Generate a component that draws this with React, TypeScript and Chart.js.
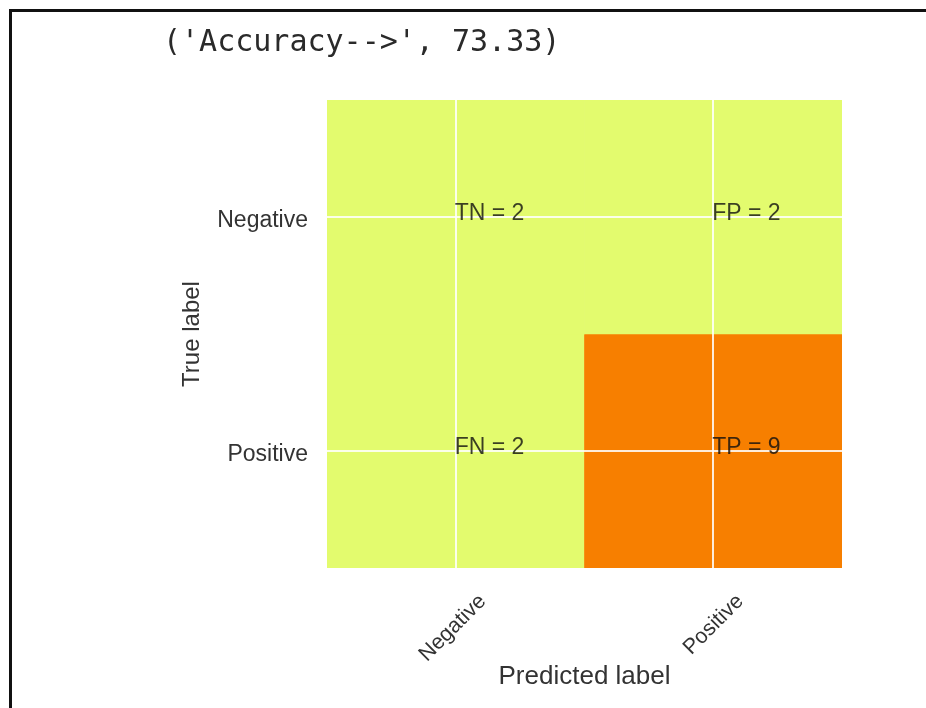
import React, { useEffect, useRef } from "react";
import { Chart, registerables } from "chart.js";

Chart.register(...registerables);

// ---- data ----
const titleText = "('Accuracy-->', 73.33)";
const predictedLabels = ["Negative", "Positive"];
const trueLabels = ["Negative", "Positive"];
const cellNames = [
  ["TN", "FP"],
  ["FN", "TP"],
];
const confusion = [
  [2, 2],
  [2, 9],
];
const xTitle = "Predicted label";
const yTitle = "True label";

// Wistia-like colormap stops (low -> high)
const cmapStops: number[][] = [
  [227, 251, 110],
  [255, 232, 26],
  [255, 189, 0],
  [255, 160, 0],
  [247, 127, 0],
];

const allVals = confusion.flat();
const vMin = Math.min(...allVals);
const vMax = Math.max(...allVals);

function colorFor(v: number): string {
  const t = vMax === vMin ? 0 : (v - vMin) / (vMax - vMin);
  const seg = t * (cmapStops.length - 1);
  const i = Math.min(Math.floor(seg), cmapStops.length - 2);
  const f = seg - i;
  const a = cmapStops[i];
  const b = cmapStops[i + 1];
  const c = a.map((av, k) => Math.round(av + (b[k] - av) * f));
  return `rgb(${c[0]}, ${c[1]}, ${c[2]})`;
}

const annotationPlugin = {
  id: "cellText",
  afterDraw(chart: any) {
    const { ctx, scales } = chart;
    const xs = scales.x;
    const ys = scales.y;
    ctx.save();
    ctx.font = "23px 'Liberation Sans', Arial, sans-serif";
    ctx.fillStyle = "rgba(15, 15, 15, 0.8)";
    ctx.textAlign = "left";
    ctx.textBaseline = "alphabetic";
    confusion.forEach((row, r) => {
      row.forEach((v, c) => {
        const x = xs.getPixelForValue(c);
        const y = ys.getPixelForValue(r);
        ctx.fillText(`${cellNames[r][c]} = ${v}`, x - 1, y + 3);
      });
    });
    ctx.restore();
  },
};

export default function App() {
  const canvasRef = useRef<HTMLCanvasElement | null>(null);

  useEffect(() => {
    if (!canvasRef.current) return;
    const datasets = trueLabels.map((lab, r) => ({
      label: lab,
      data: predictedLabels.map(() => [r - 0.5, r + 0.5]),
      backgroundColor: predictedLabels.map((_, c) => colorFor(confusion[r][c])),
      borderWidth: 0,
      borderSkipped: false,
      categoryPercentage: 1,
      barPercentage: 1,
      grouped: false,
    }));

    const chart = new Chart(canvasRef.current, {
      type: "bar",
      data: { labels: predictedLabels, datasets: datasets as any },
      plugins: [annotationPlugin],
      options: {
        animation: false,
        responsive: false,
        events: [],
        layout: { padding: { left: 163, right: 84, top: 0, bottom: 0 } },
        plugins: {
          legend: { display: false },
          tooltip: { enabled: false },
          title: {
            display: true,
            text: titleText,
            align: "start",
            color: "#2a2a2a",
            font: { family: "'DejaVu Sans Mono', monospace", size: 30, weight: "normal" },
            padding: { top: 25, bottom: 39 },
          },
        },
        scales: {
          x: {
            type: "category",
            offset: true,
            grid: {
              offset: false,
              color: "rgba(255,255,255,0.85)",
              lineWidth: 2,
              drawTicks: false,
              z: 1,
            },
            border: { display: false },
            ticks: {
              color: "#333",
              font: { family: "'Liberation Sans', Arial, sans-serif", size: 21.5 },
              minRotation: 45,
              maxRotation: 45,
              autoSkip: false,
              padding: 21,
              labelOffset: 27,
            },
            title: {
              display: true,
              text: xTitle,
              color: "#333",
              font: { family: "'Liberation Sans', Arial, sans-serif", size: 26 },
              padding: { top: 0, bottom: 16 },
            },
            afterFit: (scale: any) => {
              scale.height = 140;
            },
          },
          y: {
            type: "linear",
            min: -0.5,
            max: 1.5,
            reverse: true,
            grid: {
              color: "rgba(255,255,255,0.85)",
              lineWidth: 2,
              drawTicks: false,
              z: 1,
            },
            border: { display: false },
            afterBuildTicks: (scale: any) => {
              scale.ticks = trueLabels.map((_, i) => ({ value: i }));
            },
            ticks: {
              color: "#333",
              font: { family: "'Liberation Sans', Arial, sans-serif", size: 23 },
              padding: 19,
              labelOffset: 4,
              callback: (value: any) => trueLabels[Number(value)] ?? "",
            },
            title: {
              display: true,
              text: yTitle,
              color: "#333",
              font: { family: "'Liberation Sans', Arial, sans-serif", size: 24 },
              padding: { top: 15, bottom: 0 },
            },
            afterFit: (scale: any) => {
              scale.width = 164;
            },
          },
        },
      } as any,
    });
    return () => chart.destroy();
  }, []);

  return (
    <div style={{ position: "absolute", left: 0, top: 0, width: 926, height: 708, background: "#fff", overflow: "hidden" }}>
      <canvas ref={canvasRef} width={926} height={708} style={{ display: "block" }} />
      <div
        style={{
          position: "absolute",
          left: 9,
          top: 9,
          width: 917,
          height: 699,
          borderLeft: "3px solid #111",
          borderTop: "3px solid #111",
          boxSizing: "border-box",
          pointerEvents: "none",
        }}
      />
    </div>
  );
}
